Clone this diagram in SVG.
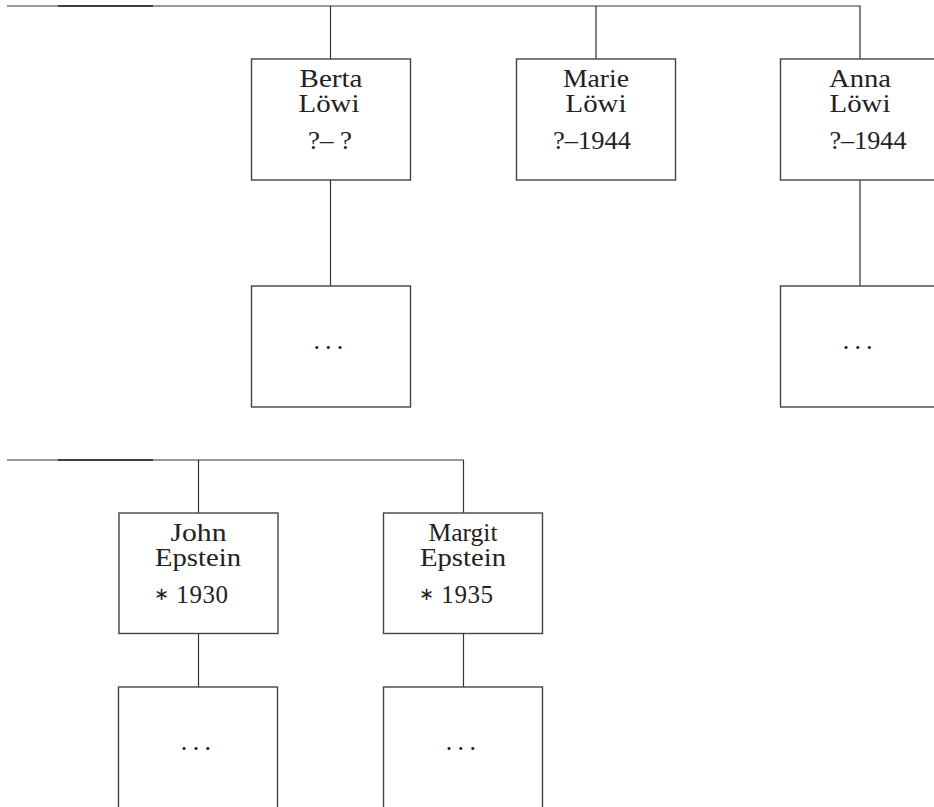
<svg xmlns="http://www.w3.org/2000/svg" width="934" height="807" viewBox="0 0 934 807">
<style>
.box{fill:#fff;stroke:#444;stroke-width:1.4}
.ln{fill:none;stroke:#333;stroke-width:1.2}
.dk{fill:none;stroke:#222;stroke-width:1.6}
text{font-family:"Liberation Serif","Times New Roman",serif;font-size:25px;fill:#222;text-anchor:middle}
.ast{font-size:18px}
.dots{font-size:26px;fill:#111}
</style>
<rect width="934" height="807" fill="#fff"/>
<g id="connectors">
<line class="ln" x1="7" y1="6" x2="860.5" y2="6"/>
<line class="dk" x1="58" y1="6" x2="153" y2="6"/>
<line class="ln" x1="330.5" y1="6" x2="330.5" y2="59"/>
<line class="ln" x1="596" y1="6" x2="596" y2="59"/>
<line class="ln" x1="860" y1="6" x2="860" y2="59"/>
<line class="ln" x1="330.5" y1="180" x2="330.5" y2="286"/>
<line class="ln" x1="860" y1="180" x2="860" y2="286"/>
<line class="ln" x1="7" y1="460" x2="463.5" y2="460"/>
<line class="dk" x1="58" y1="460" x2="153" y2="460"/>
<line class="ln" x1="198.5" y1="460" x2="198.5" y2="513"/>
<line class="ln" x1="463.5" y1="460" x2="463.5" y2="513"/>
<line class="ln" x1="198.5" y1="633" x2="198.5" y2="687"/>
<line class="ln" x1="463.5" y1="633" x2="463.5" y2="687"/>
</g>
<g id="berta">
<rect class="box" x="251.5" y="59" width="159" height="121"/>
<text x="331" y="87" textLength="63" lengthAdjust="spacingAndGlyphs">Berta</text>
<text x="329" y="112" textLength="61" lengthAdjust="spacingAndGlyphs">Löwi</text>
<text x="330" y="149" textLength="44" lengthAdjust="spacingAndGlyphs">?– ?</text>
</g>
<g id="marie">
<rect class="box" x="516.5" y="59" width="159" height="121"/>
<text x="596" y="87" textLength="66" lengthAdjust="spacingAndGlyphs">Marie</text>
<text x="596" y="112" textLength="61" lengthAdjust="spacingAndGlyphs">Löwi</text>
<text x="592" y="149" textLength="78" lengthAdjust="spacingAndGlyphs">?–1944</text>
</g>
<g id="anna">
<rect class="box" x="780.5" y="59" width="159" height="121"/>
<text x="860" y="87" textLength="62" lengthAdjust="spacingAndGlyphs">Anna</text>
<text x="860" y="112" textLength="61" lengthAdjust="spacingAndGlyphs">Löwi</text>
<text x="868" y="149" textLength="77" lengthAdjust="spacingAndGlyphs">?–1944</text>
</g>
<g id="berta-child">
<rect class="box" x="251.5" y="286" width="159" height="121"/>
<text class="dots" x="316.7 328.3 340" y="349">...</text>
</g>
<g id="anna-child">
<rect class="box" x="780.5" y="286" width="159" height="121"/>
<text class="dots" x="846 857.7 869.3" y="349">...</text>
</g>
<g id="john">
<rect class="box" x="119" y="513" width="159" height="120.5"/>
<text x="198.5" y="541" textLength="56" lengthAdjust="spacingAndGlyphs">John</text>
<text x="198" y="566" textLength="86" lengthAdjust="spacingAndGlyphs">Epstein</text>
<text x="191" y="603" textLength="74" lengthAdjust="spacing"><tspan class="ast" dy="-3">∗</tspan><tspan dy="3"> 1930</tspan></text>
</g>
<g id="margit">
<rect class="box" x="383.5" y="513" width="159" height="120.5"/>
<text x="463" y="541" textLength="69" lengthAdjust="spacingAndGlyphs">Margit</text>
<text x="463" y="566" textLength="86" lengthAdjust="spacingAndGlyphs">Epstein</text>
<text x="456" y="603" textLength="74" lengthAdjust="spacing"><tspan class="ast" dy="-3">∗</tspan><tspan dy="3"> 1935</tspan></text>
</g>
<g id="john-child">
<rect class="box" x="118.5" y="687" width="159" height="140"/>
<text class="dots" x="184 196 207.7" y="750">...</text>
</g>
<g id="margit-child">
<rect class="box" x="383.5" y="687" width="159" height="140"/>
<text class="dots" x="449 460.7 472.7" y="750">...</text>
</g>
</svg>
